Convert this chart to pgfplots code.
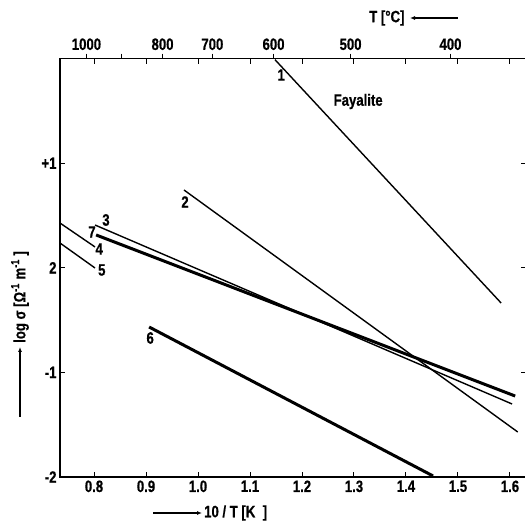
\documentclass[border=0pt]{standalone}
\usepackage{fontspec}
\setmainfont{Liberation Sans}[FakeStretch=0.8, BoldFeatures={FakeBold=0.6}]
\usepackage{pgfplots}
\pgfplotsset{compat=1.18}
\usetikzlibrary{arrows.meta}

\begin{document}
\begin{tikzpicture}[font=\fontsize{16.5}{19}\selectfont\bfseries]
  \pgfplotsset{
    frame/.style={
      at={(0,0)}, anchor=south west,
      scale only axis, width=466bp, height=418.4bp,
      xmin=0.7346, xmax=1.6308, ymin=-2, ymax=2,
      major tick length=5bp,
      axis line style={line width=1.3bp},
      every tick/.style={line width=1bp, black},
    },
  }
  % bottom axis: 10/T
  \begin{axis}[
    frame,
    tick align=inside,
    xtick={0.8,0.9,1.0,1.1,1.2,1.3,1.4,1.5,1.6},
    xticklabels={0.8,0.9,1.0,1.1,1.2,1.3,1.4,1.5,1.6},
    ytick={-2,-1,0,1},
    yticklabels={-2,-1,2,+1},
  ]
    % 1
    \addplot[black, line width=1.4bp] coordinates {(1.148,1.99) (1.583,-0.337)};
    % 2
    \addplot[black, line width=1.4bp] coordinates {(0.973,0.744) (1.615,-1.570)};
    % 3
    \addplot[black, line width=1.4bp] coordinates {(0.802,0.409) (1.604,-1.302)};
    % 7 (bold)
    \addplot[black, line width=3bp] coordinates {(0.804,0.314) (1.610,-1.226)};
    % 4
    \addplot[black, line width=1.4bp] coordinates {(0.7346,0.428) (0.802,0.199)};
    % 5
    \addplot[black, line width=1.4bp] coordinates {(0.7346,0.237) (0.802,-0.002)};
    % 6 (bold)
    \addplot[black, line width=3bp] coordinates {(0.906,-0.566) (1.452,-1.99)};

    \node at (axis cs:1.160,1.843) {1};
    \node at (axis cs:0.975,0.629) {2};
    \node at (axis cs:0.823,0.457) {3};
    \node at (axis cs:0.796,0.342) {7};
    \node at (axis cs:0.810,0.180) {4};
    \node at (axis cs:0.815,-0.021) {5};
    \node at (axis cs:0.908,-0.671) {6};
    \node at (axis cs:1.308,1.59) {Fayalite};
  \end{axis}

  % top axis: T in degC
  \begin{axis}[
    frame,
    axis x line*=top, axis y line=none,
    tick align=outside,
    xtick={0.78545,0.85241,0.93183,1.02759,1.14528,1.29341,1.48555},
    xticklabels={1000,,800,700,600,500,400},
  ]
  \end{axis}

  % axis titles with arrows
  \node[anchor=east] at (348bp,459bp) {T [°C]};
  \draw[{Latex[length=5bp,width=4bp]}-, line width=1.3bp] (350bp,459bp) -- (398bp,459bp);

  \draw[-{Latex[length=5bp,width=4bp]}, line width=1.3bp] (93bp,-36bp) -- (142bp,-36bp);
  \node[anchor=west, inner sep=1bp] at (143bp,-36bp) {10 / T [K\ \ ]};

  \draw[-{Latex[length=5bp,width=4bp]}, line width=1.3bp] (-40bp,60bp) -- (-40bp,130bp);
  \node[rotate=90, anchor=west, inner sep=1bp] at (-40bp,133bp)
    {log σ [Ω\textsuperscript{-1} m\textsuperscript{-1} ]};

  \pgfresetboundingbox
  \path[use as bounding box] (-60bp,-45bp) rectangle (465bp,477bp);
\end{tikzpicture}
\end{document}
